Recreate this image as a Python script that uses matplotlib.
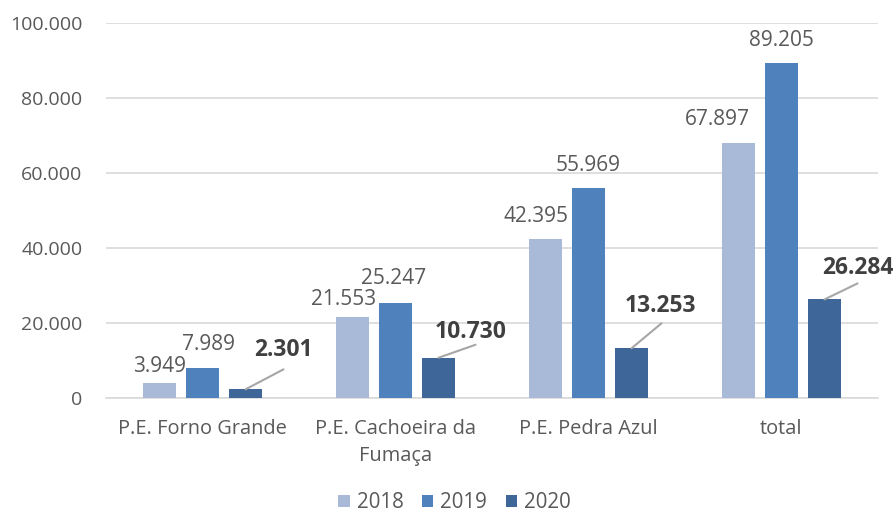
import numpy as np
import matplotlib.pyplot as plt

# data
categories = ["P.E. Forno Grande", "P.E. Cachoeira da\nFumaça", "P.E. Pedra Azul", "total"]
years = ["2018", "2019", "2020"]
v2018 = [3949, 21553, 42395, 67897]
v2019 = [7989, 25247, 55969, 89205]
v2020 = [2301, 10730, 13253, 26284]
yticks = [0, 20000, 40000, 60000, 80000, 100000]

colors = ["#a9bad9", "#4f81bd", "#3f6699"]
txt = "#595959"

# label placement (pixels from bar top), as laid out by hand in the original
off2018 = [(0, 11), (-9, 12), (-9, 17), (-21, 18)]
off2019 = [(6, 18), (-2, 19), (0, 17), (0, 17)]
line2020 = [(38, 20), (37, 13), (30, 25), (33, 16)]
text2020 = [(38, 33), (32, 20), (29, 36), (33, 25)]

plt.rcParams['font.family'] = ["Open Sans", "DejaVu Sans"]

fig = plt.figure(figsize=(8.95, 5.13), dpi=100)
ax = fig.add_axes([0.1184, 0.2242, 0.8626, 0.731])

x = np.arange(len(categories))
w = 0.171
step = 0.223

def fmt(v):
    return f"{v:,}".replace(",", ".")

series = [v2018, v2019, v2020]
for i, vals in enumerate(series):
    pos = x + (i - 1) * step
    ax.bar(pos, vals, width=w, color=colors[i], label=years[i], zorder=3)

for j in range(len(categories)):
    for i, offs in [(0, off2018), (1, off2019)]:
        p = x[j] + (i - 1) * step
        ax.annotate(fmt(series[i][j]), (p, series[i][j]), xytext=offs[j],
                    textcoords="offset pixels", ha="center", va="baseline",
                    fontsize=15, color=txt)
    p = x[j] + step
    v = v2020[j]
    ax.annotate("", (p, v), xytext=line2020[j], textcoords="offset pixels",
                arrowprops=dict(arrowstyle="-", color="#a6a6a6", lw=1.5,
                                shrinkA=0, shrinkB=0))
    ax.annotate(fmt(v), (p, v), xytext=text2020[j], textcoords="offset pixels",
                ha="center", va="baseline", fontsize=16.5, color="#404040",
                fontweight="bold")

ax.set_ylim(0, 100000)
ax.set_xlim(-0.5, 3.5)
ax.set_yticks(yticks)
ax.set_yticklabels([fmt(t) for t in yticks])
ax.set_xticks(x)
ax.set_xticklabels(categories, linespacing=1.5)
ax.tick_params(axis="both", length=0, colors=txt)
ax.tick_params(axis="x", labelsize=14.4, pad=15)
ax.tick_params(axis="y", labelsize=14, pad=17)
ax.yaxis.grid(True, color="#d9d9d9", lw=1.2, zorder=0)
for s in ["top", "right", "left"]:
    ax.spines[s].set_visible(False)
ax.spines["bottom"].set_color("#d9d9d9")
ax.spines["bottom"].set_linewidth(1.2)

fig.legend(loc="center", bbox_to_anchor=(0.508, 0.02), ncol=3, frameon=False,
           fontsize=14.8, labelcolor=txt, handlelength=0.55, handleheight=0.55,
           handletextpad=0.35, columnspacing=0.9, borderpad=0)

fig.savefig("out.png", dpi=100)
